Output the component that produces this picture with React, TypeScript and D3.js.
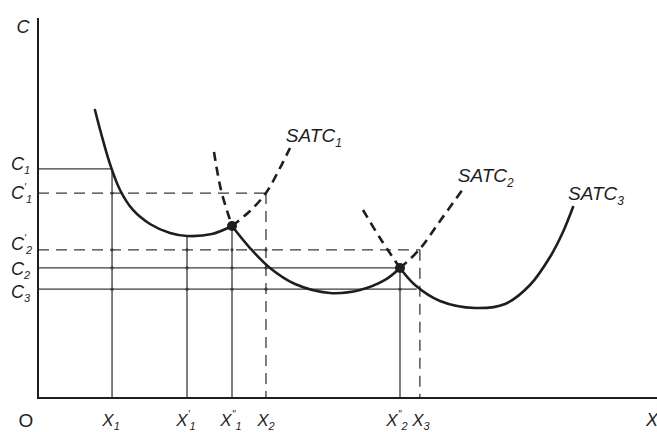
import React from "react";
import * as d3 from "d3";

// Output (X) and unit cost (C) are both in arbitrary units, 0–100.
type Pt = [number, number];

// Short-run average total cost curves, split into the solid (relevant) and dashed parts
const satc1Solid: Pt[] = [
  [9.31, 76.19], [10.29, 70.11], [11.76, 61.9], [13.4, 55.03], [15.52, 49.74],
  [18.3, 46.03], [21.57, 43.65], [24.35, 42.86], [28.43, 43.39], [31.7, 45.5],
];
const satc1Dashed: Pt[] = [
  [31.7, 45.5], [34.64, 49.47], [37.25, 54.23], [39.54, 60.85], [41.18, 66.14],
];
const satc2DashedLeft: Pt[] = [[28.76, 65.08], [29.9, 55.03], [31.7, 45.5]];
const satc2Solid: Pt[] = [
  [31.7, 45.5], [34.64, 39.68], [37.91, 34.39], [41.99, 30.16], [47.71, 27.78],
  [52.61, 28.57], [56.7, 31.22], [59.15, 34.39],
];
const satc2DashedRight: Pt[] = [[59.15, 34.39], [62.25, 39.15], [65.69, 46.83], [69.44, 55.29]];
const satc3DashedLeft: Pt[] = [[53.1, 49.74], [55.88, 42.33], [59.15, 34.39]];
const satc3Solid: Pt[] = [
  [59.15, 34.39], [61.6, 29.89], [65.69, 25.66], [71.41, 23.81], [76.31, 24.87],
  [80.39, 29.89], [83.66, 37.3], [85.78, 43.92], [87.42, 50.53],
];

// Points where neighbouring plant curves cross
const crossings: Pt[] = [[31.7, 45.5], [59.15, 34.39]];

// Output levels on the X axis
const xTicks = [
  { name: "X", sub: "1", prime: "", value: 12.1 },
  { name: "X", sub: "1", prime: "'", value: 24.35 },
  { name: "X", sub: "1", prime: "''", value: 31.7 },
  { name: "X", sub: "2", prime: "", value: 37.25 },
  { name: "X", sub: "2", prime: "''", value: 59.15 },
  { name: "X", sub: "3", prime: "", value: 62.4 },
];

// Cost levels on the C axis
const cTicks = [
  { name: "C", sub: "1", prime: "", value: 60.6 },
  { name: "C", sub: "1", prime: "'", value: 54.2 },
  { name: "C", sub: "2", prime: "'", value: 39.2 },
  { name: "C", sub: "2", prime: "", value: 34.4 },
  { name: "C", sub: "3", prime: "", value: 28.8 },
];

// Horizontal guides: cost level, output where it stops, dashed?
const hGuides = [
  { level: 60.6, to: 12.1, dashed: false },
  { level: 54.2, to: 37.25, dashed: true },
  { level: 39.2, to: 62.4, dashed: true },
  { level: 34.4, to: 59.15, dashed: false },
  { level: 28.8, to: 61.9, dashed: false },
];

// Vertical guides: output, cost where it starts, dashed?
const vGuides = [
  { at: 12.1, from: 60.6, dashed: false },
  { at: 24.35, from: 42.86, dashed: false },
  { at: 31.7, from: 45.5, dashed: false },
  { at: 37.25, from: 54.23, dashed: true },
  { at: 59.15, from: 34.39, dashed: false },
  { at: 62.4, from: 39.2, dashed: true },
];

const curveLabels = [
  { name: "SATC", sub: "1", x: 40.5, y: 69.5 },
  { name: "SATC", sub: "2", x: 68.6, y: 59.0 },
  { name: "SATC", sub: "3", x: 86.6, y: 54.2 },
];

const W = 657;
const H = 432;
const INK = "#1e1e1e";
const GUIDE = "#3a3a3a";
const FONT = "'Liberation Sans', Arial, sans-serif";

export default function App() {
  const x = d3.scaleLinear().domain([0, 100]).range([38, 650]);
  const y = d3.scaleLinear().domain([0, 100]).range([398, 20]);
  const line = d3
    .line<Pt>()
    .x((d) => x(d[0]))
    .y((d) => y(d[1]))
    .curve(d3.curveCatmullRom.alpha(0.5));

  const solidCurves = [satc1Solid, satc2Solid, satc3Solid];
  const dashedCurves = [satc1Dashed, satc2DashedLeft, satc2DashedRight, satc3DashedLeft];

  // small dots where guide lines cross each other
  const junctions: Pt[] = [];
  vGuides.forEach((v) =>
    hGuides.forEach((h) => {
      if (h.level < v.from && v.at < h.to) junctions.push([v.at, h.level]);
    })
  );

  const cNudge = [-6, -1, -7, 0, 2];
  const xNudge = [-1, -1, -1, 0, -3, 1];

  return (
    <svg width={W} height={H} style={{ position: "absolute", left: 0, top: 0, background: "#fff" }}>
      <rect width={W} height={H} fill="#fff" />

      {/* guides */}
      {hGuides.map((g, i) => (
        <line
          key={"h" + i}
          x1={x(0)}
          x2={x(g.to)}
          y1={y(g.level)}
          y2={y(g.level)}
          stroke={GUIDE}
          strokeWidth={1.3}
          strokeDasharray={g.dashed ? "11,7" : undefined}
        />
      ))}
      {vGuides.map((g, i) => (
        <line
          key={"v" + i}
          x1={x(g.at)}
          x2={x(g.at)}
          y1={y(g.from)}
          y2={y(0)}
          stroke={GUIDE}
          strokeWidth={1.3}
          strokeDasharray={g.dashed ? "11,7" : undefined}
        />
      ))}
      {junctions.map((p, i) => (
        <circle key={"j" + i} cx={x(p[0])} cy={y(p[1])} r={1.6} fill={GUIDE} />
      ))}

      {/* axes */}
      <line x1={x(0)} x2={x(0)} y1={18} y2={y(0)} stroke={INK} strokeWidth={2} />
      <line x1={x(0) - 1} x2={W} y1={y(0)} y2={y(0)} stroke={INK} strokeWidth={2.2} />

      {/* cost curves */}
      {solidCurves.map((c, i) => (
        <path key={"s" + i} d={line(c) || ""} fill="none" stroke={INK} strokeWidth={2.6} strokeLinecap="round" />
      ))}
      {dashedCurves.map((c, i) => (
        <path key={"d" + i} d={line(c) || ""} fill="none" stroke={INK} strokeWidth={2.6} strokeDasharray="9,6" />
      ))}
      {crossings.map((p, i) => (
        <circle key={"c" + i} cx={x(p[0])} cy={y(p[1])} r={5} fill={INK} />
      ))}

      {/* axis titles */}
      <text x={23} y={33} fontFamily={FONT} fontStyle="italic" fontSize={18} fill={INK} textAnchor="middle">
        C
      </text>
      <text x={26} y={427} fontFamily={FONT} fontSize={19} fill={INK} textAnchor="middle">
        O
      </text>
      <text x={646} y={426} fontFamily={FONT} fontStyle="italic" fontSize={18} fill={INK}>
        X
      </text>

      {/* output labels */}
      {xTicks.map((t, i) => (
        <text
          key={"xt" + i}
          x={x(t.value) + xNudge[i]}
          y={426}
          fontFamily={FONT}
          fontStyle="italic"
          fontSize={17}
          fill={INK}
          textAnchor="middle"
        >
          {t.name}
          {t.prime ? (
            <tspan dy={-8} fontSize={10}>
              {t.prime}
            </tspan>
          ) : null}
          <tspan dy={t.prime ? 12 : 4} fontSize={11}>
            {t.sub}
          </tspan>
        </text>
      ))}

      {/* cost labels */}
      {cTicks.map((t, i) => (
        <text
          key={"ct" + i}
          x={11}
          y={y(t.value) + 7 + cNudge[i]}
          fontFamily={FONT}
          fontStyle="italic"
          fontSize={18}
          fill={INK}
        >
          {t.name}
          {t.prime ? (
            <tspan dy={-8} fontSize={10}>
              {t.prime}
            </tspan>
          ) : null}
          <tspan dy={t.prime ? 12 : 4} fontSize={11}>
            {t.sub}
          </tspan>
        </text>
      ))}

      {/* curve labels */}
      {curveLabels.map((l, i) => (
        <text
          key={"cl" + i}
          x={x(l.x)}
          y={y(l.y) + 7}
          fontFamily={FONT}
          fontStyle="italic"
          fontSize={19}
          fill={INK}
        >
          {l.name}
          <tspan dy={5} fontSize={12}>
            {l.sub}
          </tspan>
        </text>
      ))}
    </svg>
  );
}
